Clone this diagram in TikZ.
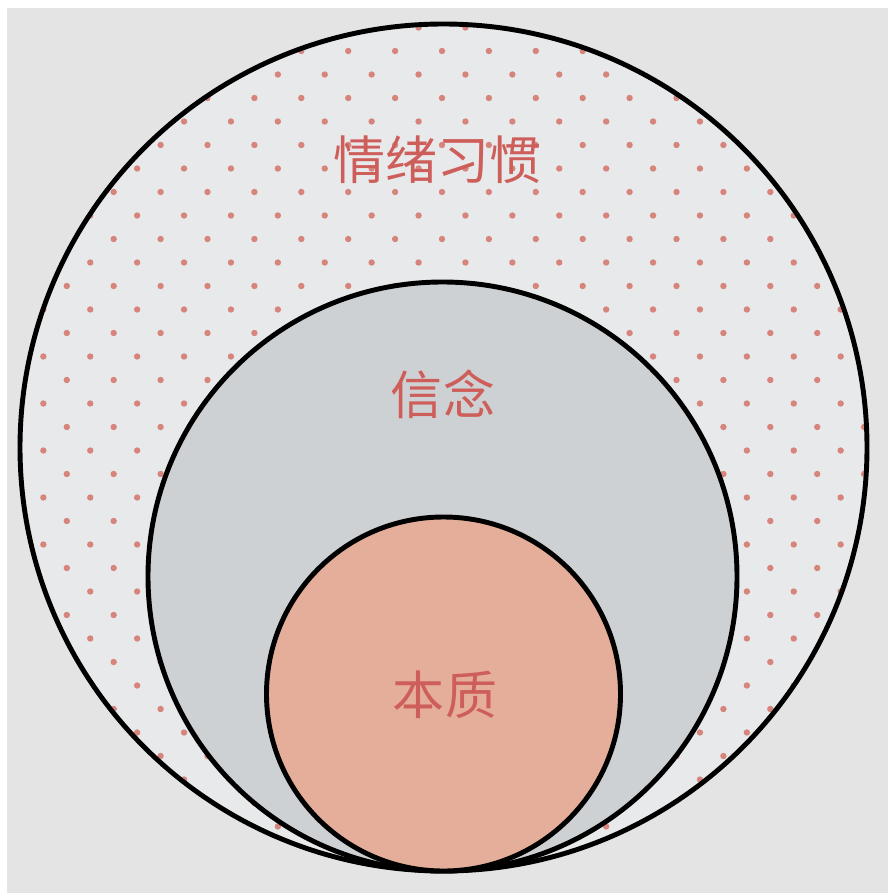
\documentclass[tikz,border=0pt]{standalone}
\usepackage{fontspec}
\newfontfamily\cjk{Noto Sans CJK SC}
\usepackage{tikz}
\usetikzlibrary{positioning}
\usepackage{xcolor}

\definecolor{pagegray}{RGB}{228,228,228}
\definecolor{ringfill}{RGB}{232,233,234}
\definecolor{midgray}{RGB}{206,209,212}
\definecolor{coregold}{RGB}{229,174,154}
\definecolor{dotred}{RGB}{214,132,124}
\definecolor{labelred}{RGB}{206,94,90}

\begin{document}
\begin{tikzpicture}[
    x=0.025cm, y=-0.025cm,
    ring/.style={draw=black, line width=3.5pt},
    label/.style={text=labelred, font=\cjk\fontsize{37}{40}\selectfont, inner sep=0pt},
    dot/.style={fill=dotred, draw=none}
]

% Page
\useasboundingbox (0,0) rectangle (888,893);
\fill[white] (0,0) rectangle (888,893);
\fill[pagegray] (7,8) rectangle (888,893);

% Outer circle - emotional habits
\fill[ringfill] (443.5,447.5) circle (423.5);
\begin{scope}
  \clip (443.5,447.5) circle (421);
  \foreach \j in {-7,...,29} {
    \pgfmathsetmacro\off{mod(\j,2)}
    \foreach \k in {-10,...,10} {
      \fill[dot] ({442+23.45*(2*\k+\off)},{192+23.5*\j}) circle (3.2);
    }
  }
\end{scope}
\draw[ring] (443.5,447.5) circle (423.5);

% Middle circle - beliefs
\draw[ring, fill=midgray] (442.5,576.5) circle (294.5);

% Inner circle - essence
\draw[ring, fill=coregold] (443.5,694) circle (177);

% Labels
\node[label] (habits) at (437.5,160) {情绪习惯};
\node[label] (beliefs) at (443,394) {信念};
\node[label] (essence) at (445,695) {本质};

\end{tikzpicture}
\end{document}
